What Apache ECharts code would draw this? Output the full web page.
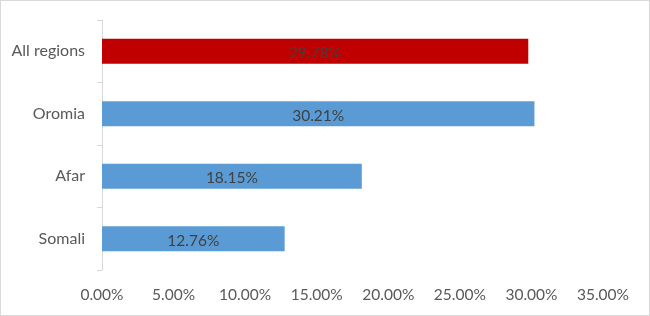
<!DOCTYPE html>
<html>
<head>
<meta charset="utf-8">
<script src="https://cdn.jsdelivr.net/npm/echarts@6/dist/echarts.min.js"></script>
<style>
html,body{margin:0;padding:0;background:#fff;}
#c{width:648px;height:314px;border:1px solid #d9d9d9;}
</style>
</head>
<body>
<div id="c"></div>
<script>
const categories = ["Somali", "Afar", "Oromia", "All regions"];
const values = [12.76, 18.15, 30.21, 29.78];
const barColors = ["#5B9BD5", "#5B9BD5", "#5B9BD5", "#C00000"];
const xTicks = [0, 5, 10, 15, 20, 25, 30, 35];

const chart = echarts.init(document.getElementById('c'), null, {renderer: 'canvas'});
const font = 'Lato, "Open Sans", sans-serif';
chart.setOption({
  animation: false,
  grid: {left: 101, right: 46, top: 19, bottom: 45},
  xAxis: {
    type: 'value', min: xTicks[0], max: xTicks[xTicks.length - 1], interval: 5,
    axisLine: {show: false}, axisTick: {show: false}, splitLine: {show: false},
    axisLabel: {color: '#595959', fontSize: 15.5, fontFamily: font, margin: 17,
      formatter: v => v.toFixed(2) + '%'}
  },
  yAxis: {
    type: 'category', data: categories,
    axisLine: {show: true, lineStyle: {color: '#d9d9d9', width: 1}},
    axisTick: {show: true, length: 5, lineStyle: {color: '#d9d9d9'}},
    axisLabel: {color: '#595959', fontSize: 16, fontFamily: font, margin: 17, padding: [4, 0, 0, 0]}
  },
  series: [{
    type: 'bar',
    barWidth: 25,
    data: values.map((v, i) => ({value: v, itemStyle: {color: barColors[i]}})),
    label: {show: true, position: 'inside', offset: [0, 2], color: '#404040', fontSize: 15.5, fontFamily: font,
      formatter: p => p.value.toFixed(2) + '%'}
  }]
});
</script>
</body>
</html>
